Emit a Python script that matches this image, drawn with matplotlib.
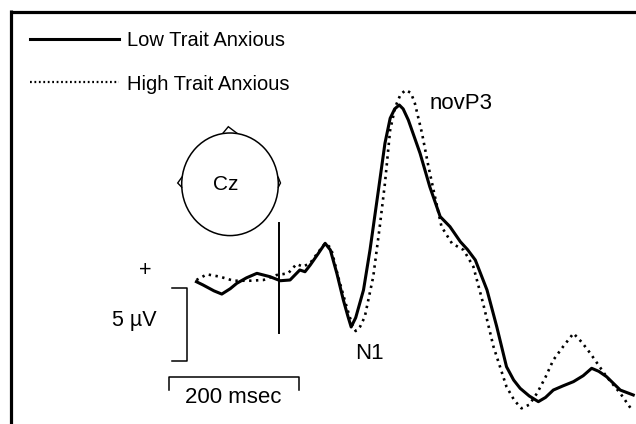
import numpy as np
import matplotlib
matplotlib.use("Agg")
import matplotlib.pyplot as plt
from matplotlib.patches import Ellipse, Polygon
from matplotlib.lines import Line2D

plt.rcParams['font.family'] = ['Liberation Sans', 'DejaVu Sans']

## ERP waveforms at Cz (time in ms, amplitude in uV, positive up)
t_low = [-127, -117, -100, -88, -75, -65, -50, -34, -14, 2, 17, 32, 40, 48, 60,
         71, 79, 89, 99, 106, 111, 118, 130, 140, 153, 163, 171, 178, 185, 191,
         199, 217, 232, 248, 263, 279, 290, 302, 320, 335, 350, 361, 371, 385,
         399, 410, 422, 437, 453, 468, 481, 492, 504, 525, 545]
v_low = [-0.12, -0.34, -0.75, -0.97, -0.6, -0.23, 0.15, 0.46, 0.23, -0.05, 0.0,
         0.69, 0.57, 1.03, 1.8, 2.53, 2.07, 0.46, -1.38, -2.5, -3.24, -2.6, -0.69,
         2.07, 6.21, 9.43, 11.15, 11.8, 12.07, 11.8, 11.03, 8.74, 6.43, 4.37, 3.68,
         2.64, 2.1, 1.38, -0.69, -3.22, -5.98, -6.9, -7.47, -8.0, -8.39, -8.1,
         -7.59, -7.3, -7.01, -6.6, -6.09, -6.3, -6.67, -7.59, -7.93]

t_high = [-127, -111, -91, -70, -45, -24, -4, 14, 27, 37, 48, 60, 71, 80, 91,
          104, 112, 118, 125, 132, 145, 155, 163, 171, 179, 187, 195, 203, 209,
          220, 230, 240, 250, 266, 284, 299, 314, 330, 350, 362, 373, 385, 397,
          410, 422, 437, 453, 466, 479, 492, 504, 525, 543]
v_high = [0.0, 0.39, 0.23, -0.05, -0.05, 0.0, 0.34, 0.46, 1.10, 0.92, 1.17, 1.9,
          2.53, 2.21, 0.23, -1.84, -3.0, -3.52, -3.2, -2.53, 0.23, 3.68, 6.67,
          10.34, 11.95, 12.8, 13.10, 12.9, 12.19, 10.12, 7.81, 5.74, 3.68, 2.53,
          2.07, 0.92, -1.61, -4.60, -7.36, -8.3, -8.85, -8.6, -7.81, -6.7, -5.52,
          -4.6, -3.68, -4.3, -5.06, -5.9, -6.67, -7.81, -8.97]

labels = ['Low Trait Anxious', 'High Trait Anxious']
bar_ms = 200   # time scale bar
bar_uv = 5     # amplitude scale bar

W, H = 636, 424
fig = plt.figure(figsize=(W / 100, H / 100), dpi=100)
ax = fig.add_axes([0, 0, 1, 1])
ax.axis('off')
# 0.65 px per ms, 14.5 px per uV, onset at x=279 px, zero at y=280 px
ax.set_xlim(-279 / 0.65, (W - 279) / 0.65)
ax.set_ylim(-(H - 280) / 14.5, 280 / 14.5)

def fx(px):
    return px / W

def fy(py):
    return 1 - py / H

dots = (0, (0.9, 1.7))
ax.plot(t_low, v_low, color='black', lw=2.2, solid_joinstyle='round')
ax.plot(t_high, v_high, color='black', lw=1.9, ls=dots)

# stimulus onset
ax.plot([0, 0], [3.9, -3.66], color='black', lw=1.4)

# amplitude bar
xb = -141.5
ax.plot([xb - 23, xb, xb, xb - 23], [-0.57, -0.57, -0.57 - bar_uv, -0.57 - bar_uv],
        color='black', lw=1.1)
# time bar
x0 = -169.2
ax.plot([x0, x0, x0 + bar_ms, x0 + bar_ms], [-7.59, -6.67, -6.67, -7.59],
        color='black', lw=1.1)

tf = fig.transFigure
# frame (left and top only)
fig.add_artist(Line2D([fx(11), fx(11)], [fy(10), 0], color='black', lw=2.3,
                      solid_capstyle='butt', transform=tf))
fig.add_artist(Line2D([fx(9.5), 1], [fy(11.5), fy(11.5)], color='black', lw=2.3,
                      solid_capstyle='butt', transform=tf))

# legend
fig.add_artist(Line2D([fx(30), fx(119)], [fy(39), fy(39)], color='black', lw=2.2, transform=tf))
fig.add_artist(Line2D([fx(30), fx(119)], [fy(82), fy(82)], color='black', lw=1.6,
                      ls=(0, (0.8, 1.2)), transform=tf))
fig.text(fx(127), fy(45.5), labels[0], fontsize=14.5, va='baseline', ha='left')
fig.text(fx(127), fy(90), labels[1], fontsize=14.5, va='baseline', ha='left')

# head
fig.add_artist(Ellipse((fx(230), fy(184.3)), 96.6 / W, 102.6 / H, fill=False,
                       ec='black', lw=1.1, transform=tf))
for pts in ([(222.7, 133.5), (228.3, 126.7), (237.3, 133.5)],
            [(182.2, 176.7), (177.7, 183), (182.2, 187.7)],
            [(278, 176.7), (280.5, 183), (278, 187.7)]):
    fig.add_artist(Polygon([(fx(a), fy(b)) for a, b in pts], closed=False, fill=False,
                           ec='black', lw=1.0, transform=tf))
fig.text(fx(225.5), fy(190), 'Cz', fontsize=15, ha='center', va='baseline')

fig.text(fx(145), fy(271), '+', fontsize=15.5, ha='center', va='center')
fig.text(fx(157), fy(326), '5 µV', fontsize=15.5, ha='right', va='baseline')
fig.text(fx(233.3), fy(402.7), '200 msec', fontsize=16, ha='center', va='baseline')
fig.text(fx(355), fy(359.3), 'N1', fontsize=16, ha='left', va='baseline')
fig.text(fx(429.3), fy(109.3), 'novP3', fontsize=16, ha='left', va='baseline')

fig.savefig('out.png', dpi=100)
